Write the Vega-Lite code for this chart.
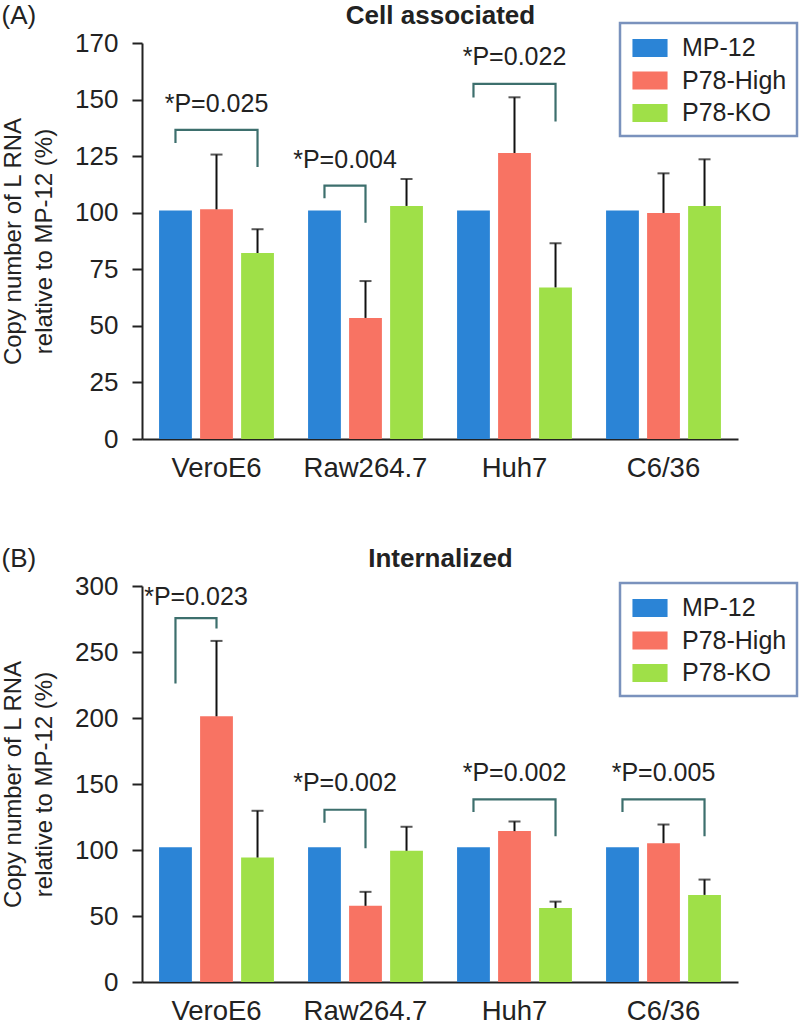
{
  "$schema": "https://vega.github.io/schema/vega-lite/v6.json",
  "padding": {"left": 1, "top": 2, "right": 0, "bottom": 0},
  "background": "white",
  "datasets": {
    "bars": [
      {"panel": "A", "cell": "VeroE6", "group": "MP-12", "value": 101, "err": null},
      {"panel": "A", "cell": "VeroE6", "group": "P78-High", "value": 101.5, "err": 125.7},
      {"panel": "A", "cell": "VeroE6", "group": "P78-KO", "value": 82.2, "err": 92.7},
      {"panel": "A", "cell": "Raw264.7", "group": "MP-12", "value": 101, "err": null},
      {"panel": "A", "cell": "Raw264.7", "group": "P78-High", "value": 53.5, "err": 69.8},
      {"panel": "A", "cell": "Raw264.7", "group": "P78-KO", "value": 103, "err": 114.9},
      {"panel": "A", "cell": "Huh7", "group": "MP-12", "value": 101, "err": null},
      {"panel": "A", "cell": "Huh7", "group": "P78-High", "value": 126.4, "err": 151},
      {"panel": "A", "cell": "Huh7", "group": "P78-KO", "value": 67, "err": 86.5},
      {"panel": "A", "cell": "C6/36", "group": "MP-12", "value": 101, "err": null},
      {"panel": "A", "cell": "C6/36", "group": "P78-High", "value": 99.9, "err": 117.4},
      {"panel": "A", "cell": "C6/36", "group": "P78-KO", "value": 103, "err": 123.6},
      {"panel": "B", "cell": "VeroE6", "group": "MP-12", "value": 102, "err": null},
      {"panel": "B", "cell": "VeroE6", "group": "P78-High", "value": 201.3, "err": 258.4},
      {"panel": "B", "cell": "VeroE6", "group": "P78-KO", "value": 94.3, "err": 129.7},
      {"panel": "B", "cell": "Raw264.7", "group": "MP-12", "value": 102, "err": null},
      {"panel": "B", "cell": "Raw264.7", "group": "P78-High", "value": 57.7, "err": 68.3},
      {"panel": "B", "cell": "Raw264.7", "group": "P78-KO", "value": 99.4, "err": 117.6},
      {"panel": "B", "cell": "Huh7", "group": "MP-12", "value": 102, "err": null},
      {"panel": "B", "cell": "Huh7", "group": "P78-High", "value": 114.3, "err": 121.6},
      {"panel": "B", "cell": "Huh7", "group": "P78-KO", "value": 56.1, "err": 60.9},
      {"panel": "B", "cell": "C6/36", "group": "MP-12", "value": 102, "err": null},
      {"panel": "B", "cell": "C6/36", "group": "P78-High", "value": 105.2, "err": 119.3},
      {"panel": "B", "cell": "C6/36", "group": "P78-KO", "value": 66, "err": 77.6}
    ],
    "brackets": [
      {"panel": "A", "id": "A1", "seq": 1, "cell": "VeroE6", "group": "MP-12", "value": 130.8},
      {"panel": "A", "id": "A1", "seq": 2, "cell": "VeroE6", "group": "MP-12", "value": 136.6},
      {"panel": "A", "id": "A1", "seq": 3, "cell": "VeroE6", "group": "P78-KO", "value": 136.6},
      {"panel": "A", "id": "A1", "seq": 4, "cell": "VeroE6", "group": "P78-KO", "value": 120.2},
      {"panel": "A", "id": "A2", "seq": 1, "cell": "Raw264.7", "group": "MP-12", "value": 106.4},
      {"panel": "A", "id": "A2", "seq": 2, "cell": "Raw264.7", "group": "MP-12", "value": 112},
      {"panel": "A", "id": "A2", "seq": 3, "cell": "Raw264.7", "group": "P78-High", "value": 112},
      {"panel": "A", "id": "A2", "seq": 4, "cell": "Raw264.7", "group": "P78-High", "value": 95.6},
      {"panel": "A", "id": "A3", "seq": 1, "cell": "Huh7", "group": "MP-12", "value": 150.9},
      {"panel": "A", "id": "A3", "seq": 2, "cell": "Huh7", "group": "MP-12", "value": 156.9},
      {"panel": "A", "id": "A3", "seq": 3, "cell": "Huh7", "group": "P78-KO", "value": 156.9},
      {"panel": "A", "id": "A3", "seq": 4, "cell": "Huh7", "group": "P78-KO", "value": 140.3},
      {"panel": "B", "id": "B1", "seq": 1, "cell": "VeroE6", "group": "MP-12", "value": 226.1},
      {"panel": "B", "id": "B1", "seq": 2, "cell": "VeroE6", "group": "MP-12", "value": 275.6},
      {"panel": "B", "id": "B1", "seq": 3, "cell": "VeroE6", "group": "P78-High", "value": 275.6},
      {"panel": "B", "id": "B1", "seq": 4, "cell": "VeroE6", "group": "P78-High", "value": 267.8},
      {"panel": "B", "id": "B2", "seq": 1, "cell": "Raw264.7", "group": "MP-12", "value": 120.6},
      {"panel": "B", "id": "B2", "seq": 2, "cell": "Raw264.7", "group": "MP-12", "value": 130.5},
      {"panel": "B", "id": "B2", "seq": 3, "cell": "Raw264.7", "group": "P78-High", "value": 130.5},
      {"panel": "B", "id": "B2", "seq": 4, "cell": "Raw264.7", "group": "P78-High", "value": 101.4},
      {"panel": "B", "id": "B3", "seq": 1, "cell": "Huh7", "group": "MP-12", "value": 128.7},
      {"panel": "B", "id": "B3", "seq": 2, "cell": "Huh7", "group": "MP-12", "value": 138.3},
      {"panel": "B", "id": "B3", "seq": 3, "cell": "Huh7", "group": "P78-KO", "value": 138.3},
      {"panel": "B", "id": "B3", "seq": 4, "cell": "Huh7", "group": "P78-KO", "value": 110.5},
      {"panel": "B", "id": "B4", "seq": 1, "cell": "C6/36", "group": "MP-12", "value": 128.7},
      {"panel": "B", "id": "B4", "seq": 2, "cell": "C6/36", "group": "MP-12", "value": 138.3},
      {"panel": "B", "id": "B4", "seq": 3, "cell": "C6/36", "group": "P78-KO", "value": 138.3},
      {"panel": "B", "id": "B4", "seq": 4, "cell": "C6/36", "group": "P78-KO", "value": 110.5}
    ],
    "labels": [
      {"panel": "A", "cell": "VeroE6", "span": "MP-12 vs P78-KO", "value": 148, "text": "*P=0.025"},
      {"panel": "A", "cell": "Raw264.7", "span": "MP-12 vs P78-High", "value": 123.3, "text": "*P=0.004"},
      {"panel": "A", "cell": "Huh7", "span": "MP-12 vs P78-KO", "value": 168.7, "text": "*P=0.022"},
      {"panel": "B", "cell": "VeroE6", "span": "MP-12 vs P78-High", "value": 291.4, "text": "*P=0.023"},
      {"panel": "B", "cell": "Raw264.7", "span": "MP-12 vs P78-High", "value": 150.5, "text": "*P=0.002"},
      {"panel": "B", "cell": "Huh7", "span": "MP-12 vs P78-KO", "value": 158, "text": "*P=0.002"},
      {"panel": "B", "cell": "C6/36", "span": "MP-12 vs P78-KO", "value": 158, "text": "*P=0.005"}
    ]
  },
  "resolve": {"scale": {"color": "independent"}, "legend": {"color": "independent"}},
  "spacing": 63,
  "vconcat": [
    {
      "title": {"text": "(A)", "anchor": "start", "frame": "bounds", "fontSize": 26, "fontWeight": "normal", "dy": 26.2, "offset": 0, "color": "#222"},
      "width": 596,
      "height": 396,
      "resolve": {"axis": {"x": "independent"}},
      "layer": [
        {
          "data": {"name": "bars"},
          "transform": [{"filter": "datum.panel === 'A'"}],
          "mark": {"type": "bar"},
          "encoding": {
            "x": {"field": "cell", "type": "nominal", "sort": ["VeroE6", "Raw264.7", "Huh7", "C6/36"], "scale": {"paddingInner": 0.174, "paddingOuter": 0.087},
              "axis": {"title": null, "labelAngle": 0, "ticks": false, "labelFontSize": 27.5, "labelPadding": 15}},
            "xOffset": {"field": "group", "type": "nominal", "sort": ["MP-12", "P78-High", "P78-KO"], "scale": {"paddingInner": 0.2, "paddingOuter": 0.1}},
            "y": {"field": "value", "type": "quantitative", "scale": {"domain": [0, 175], "nice": false},
              "axis": {"values": [0, 25, 50, 75, 100, 125, 150, 175], "labelExpr": "datum.value === 175 ? '170' : datum.label", "title": ["Copy number of L RNA", "relative to MP-12 (%)"]}},
            "color": {"field": "group", "type": "nominal", "sort": ["MP-12", "P78-High", "P78-KO"],
              "scale": {"domain": ["MP-12", "P78-High", "P78-KO"], "range": ["#2b84d6", "#f87363", "#9fe048"]},
              "legend": {"legendX": 478, "legendY": -20}}
          }
        },
        {
          "data": {"name": "bars"},
          "transform": [{"filter": "datum.panel === 'A' && datum.err != null"}],
          "mark": {"type": "rule", "color": "#111", "strokeWidth": 2},
          "encoding": {
            "x": {"field": "cell", "type": "nominal", "sort": ["VeroE6", "Raw264.7", "Huh7", "C6/36"], "axis": null},
            "xOffset": {"field": "group", "type": "nominal", "sort": ["MP-12", "P78-High", "P78-KO"]},
            "y": {"field": "value", "type": "quantitative"},
            "y2": {"field": "err"}
          }
        },
        {
          "data": {"name": "bars"},
          "transform": [{"filter": "datum.panel === 'A' && datum.err != null"}],
          "mark": {"type": "tick", "color": "#111", "thickness": 2, "size": 12, "orient": "horizontal"},
          "encoding": {
            "x": {"field": "cell", "type": "nominal", "sort": ["VeroE6", "Raw264.7", "Huh7", "C6/36"], "axis": null},
            "xOffset": {"field": "group", "type": "nominal", "sort": ["MP-12", "P78-High", "P78-KO"]},
            "y": {"field": "err", "type": "quantitative"}
          }
        },
        {
          "data": {"name": "brackets"},
          "transform": [{"filter": "datum.panel === 'A'"}],
          "mark": {"type": "line", "color": "#3d6f6d", "strokeWidth": 2.2, "strokeJoin": "miter"},
          "encoding": {
            "x": {"field": "cell", "type": "nominal", "sort": ["VeroE6", "Raw264.7", "Huh7", "C6/36"], "axis": null},
            "xOffset": {"field": "group", "type": "nominal", "sort": ["MP-12", "P78-High", "P78-KO"]},
            "y": {"field": "value", "type": "quantitative"},
            "detail": {"field": "id"},
            "order": {"field": "seq", "type": "quantitative"}
          }
        },
        {
          "data": {"name": "labels"},
          "transform": [{"filter": "datum.panel === 'A' && datum.span === 'MP-12 vs P78-KO'"}],
          "mark": {"type": "text", "fontSize": 25, "color": "#222", "baseline": "middle"},
          "encoding": {
            "x": {"field": "cell", "type": "nominal", "sort": ["VeroE6", "Raw264.7", "Huh7", "C6/36"],
              "axis": {"orient": "top", "title": "Cell associated", "labels": false, "ticks": false, "domain": false, "titleFontSize": 26, "titleFontWeight": "bold", "titlePadding": 19.4, "titleBaseline": "alphabetic"}},
            "y": {"field": "value", "type": "quantitative"},
            "text": {"field": "text"}
          }
        },
        {
          "data": {"name": "labels"},
          "transform": [{"filter": "datum.panel === 'A' && datum.span === 'MP-12 vs P78-High'"}],
          "mark": {"type": "text", "fontSize": 25, "color": "#222", "baseline": "middle", "dx": -20.5},
          "encoding": {
            "x": {"field": "cell", "type": "nominal", "sort": ["VeroE6", "Raw264.7", "Huh7", "C6/36"], "axis": null},
            "y": {"field": "value", "type": "quantitative"},
            "text": {"field": "text"}
          }
        }
      ]
    },
    {
      "title": {"text": "(B)", "anchor": "start", "frame": "bounds", "fontSize": 26, "fontWeight": "normal", "dy": 26.2, "offset": 0, "color": "#222"},
      "width": 596,
      "height": 396,
      "resolve": {"axis": {"x": "independent"}},
      "layer": [
        {
          "data": {"name": "bars"},
          "transform": [{"filter": "datum.panel === 'B'"}],
          "mark": {"type": "bar"},
          "encoding": {
            "x": {"field": "cell", "type": "nominal", "sort": ["VeroE6", "Raw264.7", "Huh7", "C6/36"], "scale": {"paddingInner": 0.174, "paddingOuter": 0.087},
              "axis": {"title": null, "labelAngle": 0, "ticks": false, "labelFontSize": 27.5, "labelPadding": 15}},
            "xOffset": {"field": "group", "type": "nominal", "sort": ["MP-12", "P78-High", "P78-KO"], "scale": {"paddingInner": 0.2, "paddingOuter": 0.1}},
            "y": {"field": "value", "type": "quantitative", "scale": {"domain": [0, 300], "nice": false},
              "axis": {"values": [0, 50, 100, 150, 200, 250, 300], "title": ["Copy number of L RNA", "relative to MP-12 (%)"]}},
            "color": {"field": "group", "type": "nominal", "sort": ["MP-12", "P78-High", "P78-KO"],
              "scale": {"domain": ["MP-12", "P78-High", "P78-KO"], "range": ["#2b84d6", "#f87363", "#9fe048"]},
              "legend": {"legendX": 478, "legendY": -3}}
          }
        },
        {
          "data": {"name": "bars"},
          "transform": [{"filter": "datum.panel === 'B' && datum.err != null"}],
          "mark": {"type": "rule", "color": "#111", "strokeWidth": 2},
          "encoding": {
            "x": {"field": "cell", "type": "nominal", "sort": ["VeroE6", "Raw264.7", "Huh7", "C6/36"], "axis": null},
            "xOffset": {"field": "group", "type": "nominal", "sort": ["MP-12", "P78-High", "P78-KO"]},
            "y": {"field": "value", "type": "quantitative"},
            "y2": {"field": "err"}
          }
        },
        {
          "data": {"name": "bars"},
          "transform": [{"filter": "datum.panel === 'B' && datum.err != null"}],
          "mark": {"type": "tick", "color": "#111", "thickness": 2, "size": 12, "orient": "horizontal"},
          "encoding": {
            "x": {"field": "cell", "type": "nominal", "sort": ["VeroE6", "Raw264.7", "Huh7", "C6/36"], "axis": null},
            "xOffset": {"field": "group", "type": "nominal", "sort": ["MP-12", "P78-High", "P78-KO"]},
            "y": {"field": "err", "type": "quantitative"}
          }
        },
        {
          "data": {"name": "brackets"},
          "transform": [{"filter": "datum.panel === 'B'"}],
          "mark": {"type": "line", "color": "#3d6f6d", "strokeWidth": 2.2, "strokeJoin": "miter"},
          "encoding": {
            "x": {"field": "cell", "type": "nominal", "sort": ["VeroE6", "Raw264.7", "Huh7", "C6/36"], "axis": null},
            "xOffset": {"field": "group", "type": "nominal", "sort": ["MP-12", "P78-High", "P78-KO"]},
            "y": {"field": "value", "type": "quantitative"},
            "detail": {"field": "id"},
            "order": {"field": "seq", "type": "quantitative"}
          }
        },
        {
          "data": {"name": "labels"},
          "transform": [{"filter": "datum.panel === 'B' && datum.span === 'MP-12 vs P78-KO'"}],
          "mark": {"type": "text", "fontSize": 25, "color": "#222", "baseline": "middle"},
          "encoding": {
            "x": {"field": "cell", "type": "nominal", "sort": ["VeroE6", "Raw264.7", "Huh7", "C6/36"],
              "axis": {"orient": "top", "title": "Internalized", "labels": false, "ticks": false, "domain": false, "titleFontSize": 26, "titleFontWeight": "bold", "titlePadding": 19.4, "titleBaseline": "alphabetic"}},
            "y": {"field": "value", "type": "quantitative"},
            "text": {"field": "text"}
          }
        },
        {
          "data": {"name": "labels"},
          "transform": [{"filter": "datum.panel === 'B' && datum.span === 'MP-12 vs P78-High'"}],
          "mark": {"type": "text", "fontSize": 25, "color": "#222", "baseline": "middle", "dx": -20.5},
          "encoding": {
            "x": {"field": "cell", "type": "nominal", "sort": ["VeroE6", "Raw264.7", "Huh7", "C6/36"], "axis": null},
            "y": {"field": "value", "type": "quantitative"},
            "text": {"field": "text"}
          }
        }
      ]
    }
  ],
  "config": {
    "font": "Liberation Sans",
    "view": {"stroke": null},
    "axis": {"domainColor": "#222", "domainWidth": 2, "tickColor": "#222", "tickWidth": 2, "tickSize": 10, "labelColor": "#222", "titleColor": "#222", "grid": false},
    "axisY": {"labelFontSize": 26, "labelPadding": 14, "titleFontSize": 24, "titleFontWeight": "normal", "titlePadding": 18, "titleLineHeight": 31},
    "legend": {"orient": "none", "title": null, "symbolType": "M-1.17,-0.6H1.17V0.6H-1.17Z", "symbolSize": 900, "symbolStrokeWidth": 0, "symbolOpacity": 1, "symbolOffset": 5, "labelFontSize": 25, "labelColor": "#222", "labelOffset": 17, "rowPadding": 4.5, "padding": 10, "strokeColor": "#7a92bd", "strokeWidth": 2.5, "cornerRadius": 0, "fillColor": "white"}
  }
}
